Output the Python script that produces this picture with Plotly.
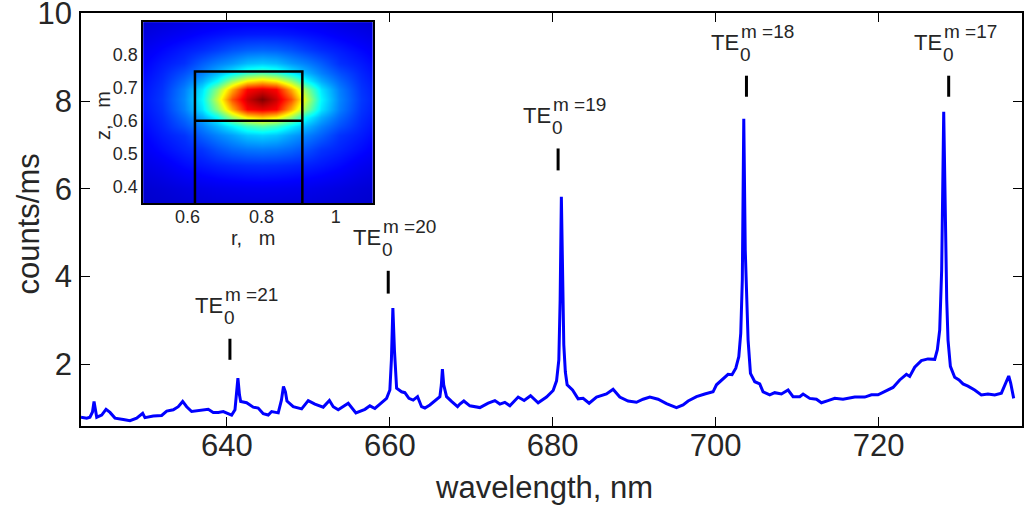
import plotly.graph_objects as go

# spectrum
wavelength = [622.10,622.80,623.20,623.51,623.70,624.03,624.64,625.17,625.66,626.27,
              627.29,628.11,628.93,629.67,629.95,630.97,632.00,632.62,633.43,634.04,
              634.58,635.07,635.68,636.70,637.72,638.33,638.95,639.56,640.59,641.00,
              641.20,641.36,641.55,641.70,642.43,643.24,643.85,644.47,645.08,645.50,
              646.31,646.70,646.95,647.19,647.38,647.74,648.15,649.18,649.99,650.81,
              651.83,652.59,653.06,653.67,654.90,655.84,656.95,657.56,658.17,658.79,
              659.61,660.01,660.20,660.38,660.57,660.84,661.45,661.85,662.35,662.87,
              663.41,663.90,664.31,664.92,665.54,666.15,666.33,666.46,666.62,666.97,
              667.58,668.32,668.60,669.09,669.83,671.06,672.08,672.90,673.51,674.12,
              674.74,675.76,676.49,677.28,678.21,679.24,680.05,680.47,680.75,680.91,
              681.06,681.22,681.36,681.55,681.77,682.43,683.12,683.73,684.47,685.38,
              686.60,687.41,688.23,689.25,690.28,691.09,691.92,692.93,693.96,695.19,
              696.00,696.62,697.65,698.66,699.68,700.10,700.91,701.52,702.01,702.47,
              702.84,703.08,703.27,703.45,703.63,703.82,703.98,704.27,704.80,705.41,
              705.82,706.64,707.25,708.07,708.89,709.50,710.32,710.73,711.55,712.37,
              712.98,713.79,714.62,715.63,717.07,718.30,719.12,719.93,720.96,721.77,
              722.59,723.41,723.82,724.43,725.25,726.06,726.89,727.21,727.50,727.74,
              727.99,728.21,728.36,728.52,728.81,729.34,729.87,730.36,730.97,731.79,
              732.61,733.42,734.25,735.07,735.56,735.97,736.21,736.58]
counts = [0.79,0.77,0.79,0.91,1.15,0.79,0.84,0.97,0.90,0.77,
          0.74,0.71,0.77,0.88,0.78,0.82,0.83,0.93,0.96,1.03,
          1.15,1.03,0.92,0.94,0.97,0.90,0.90,0.92,0.84,0.96,
          1.30,1.68,1.30,1.15,1.12,1.02,1.00,0.87,0.84,0.92,
          0.89,1.18,1.49,1.37,1.16,1.09,1.03,0.98,1.17,1.09,
          1.02,1.17,1.03,0.96,1.11,0.89,0.97,1.05,0.99,1.09,
          1.22,1.41,2.10,3.28,2.33,1.45,1.37,1.35,1.22,1.18,
          1.26,1.03,1.00,1.07,1.17,1.26,1.53,1.89,1.53,1.26,
          1.15,1.03,1.09,1.16,1.05,1.01,1.11,1.17,1.09,1.13,
          1.05,1.25,1.17,1.28,1.12,1.25,1.40,1.62,2.10,3.47,
          5.82,3.70,2.44,1.82,1.53,1.41,1.21,1.22,1.11,1.25,
          1.32,1.43,1.25,1.16,1.13,1.20,1.25,1.20,1.10,1.01,
          1.07,1.16,1.26,1.32,1.37,1.53,1.66,1.77,1.76,1.91,
          2.17,2.71,3.92,7.60,4.61,3.24,2.55,1.79,1.60,1.55,
          1.37,1.30,1.35,1.32,1.41,1.26,1.26,1.32,1.22,1.20,
          1.12,1.17,1.22,1.20,1.25,1.25,1.30,1.30,1.40,1.47,
          1.64,1.77,1.72,1.93,2.08,2.12,2.11,2.33,2.78,4.15,
          7.76,5.07,3.47,2.55,1.95,1.70,1.64,1.55,1.50,1.41,
          1.30,1.32,1.30,1.34,1.57,1.73,1.57,1.22]

# mode labels: order m, wavelength of the marker, marker bottom / top
mode_m = [21, 20, 19, 18, 17]
mode_x = [640.38, 659.81, 680.66, 703.78, 728.60]
mode_ybot = [2.10, 3.61, 6.42, 8.10, 8.10]
mode_ytop = [2.58, 4.13, 6.92, 8.58, 8.58]

# inset: mode intensity (normalised). field is symmetric in r about 0.8,
# so each row lists only the half from r=0.80 outwards
field_r = [0.45, 0.53, 0.59, 0.64, 0.68, 0.72, 0.76, 0.80, 0.84, 0.88, 0.92, 0.96, 1.01, 1.07, 1.15]
field_z = [0.305, 0.395, 0.465, 0.515, 0.555, 0.585, 0.61, 0.635,
           0.665, 0.695, 0.72, 0.745, 0.775, 0.815, 0.865, 0.925]
field_half = [
    [0.070, 0.070, 0.069, 0.069, 0.068, 0.066, 0.064, 0.060],
    [0.110, 0.109, 0.107, 0.104, 0.099, 0.092, 0.082, 0.070],
    [0.170, 0.168, 0.163, 0.156, 0.146, 0.132, 0.110, 0.088],
    [0.245, 0.240, 0.226, 0.204, 0.176, 0.158, 0.134, 0.100],
    [0.330, 0.318, 0.283, 0.253, 0.220, 0.175, 0.150, 0.108],
    [0.460, 0.430, 0.365, 0.305, 0.252, 0.204, 0.160, 0.114],
    [0.680, 0.640, 0.530, 0.380, 0.295, 0.228, 0.168, 0.120],
    [0.900, 0.874, 0.706, 0.510, 0.350, 0.250, 0.175, 0.124],
    [1.000, 0.924, 0.796, 0.570, 0.370, 0.258, 0.180, 0.126],
    [0.900, 0.874, 0.706, 0.510, 0.350, 0.250, 0.175, 0.124],
    [0.680, 0.640, 0.530, 0.380, 0.295, 0.228, 0.168, 0.120],
    [0.460, 0.430, 0.365, 0.305, 0.252, 0.204, 0.160, 0.114],
    [0.320, 0.308, 0.274, 0.248, 0.216, 0.172, 0.148, 0.108],
    [0.225, 0.220, 0.206, 0.186, 0.168, 0.152, 0.130, 0.098],
    [0.150, 0.149, 0.145, 0.138, 0.130, 0.117, 0.104, 0.082],
    [0.098, 0.098, 0.096, 0.093, 0.089, 0.083, 0.075, 0.067],
]
field = [row[:0:-1] + row for row in field_half]

# resonator outline drawn over the field
box_r = [0.62, 0.62, 0.91, 0.91]
box_z = [0.30, 0.75, 0.75, 0.30]
cut_r = [0.62, 0.91]
cut_z = [0.60, 0.60]

jet = [[0, "rgb(0,0,143)"], [0.125, "rgb(0,0,255)"], [0.375, "rgb(0,255,255)"],
       [0.625, "rgb(255,255,0)"], [0.875, "rgb(255,0,0)"], [1, "rgb(128,0,0)"]]

FONT = "Arial, Liberation Sans, sans-serif"
TXT = "#262626"

fig = go.Figure()
fig.add_trace(go.Scatter(x=wavelength, y=counts, mode="lines",
                         line=dict(color="rgb(0,0,255)", width=3), showlegend=False))

fig.add_trace(go.Heatmap(x=field_r, y=field_z, z=field, colorscale=jet, zmin=0, zmax=1,
                         zsmooth="best", showscale=False, xaxis="x2", yaxis="y2"))
fig.add_trace(go.Scatter(x=box_r, y=box_z, mode="lines", line=dict(color="black", width=2.5),
                         xaxis="x2", yaxis="y2", showlegend=False))
fig.add_trace(go.Scatter(x=cut_r, y=cut_z, mode="lines", line=dict(color="black", width=2.5),
                         xaxis="x2", yaxis="y2", showlegend=False))

# TE labels with a short marker under each
for m, x, yb, yt in zip(mode_m, mode_x, mode_ybot, mode_ytop):
    fig.add_shape(type="line", xref="x", yref="y", x0=x, x1=x, y0=yb, y1=yt,
                  line=dict(color="black", width=3))
    fig.add_annotation(x=x, y=yt, text="TE", showarrow=False, xanchor="right", yanchor="middle",
                       xshift=-5, yshift=33, font=dict(family=FONT, size=22, color=TXT))
    fig.add_annotation(x=x, y=yt, text="0", showarrow=False, xanchor="left", yanchor="middle",
                       xshift=-8, yshift=21, font=dict(family=FONT, size=19, color=TXT))
    fig.add_annotation(x=x, y=yt, text="m =%d" % m, showarrow=False, xanchor="left",
                       yanchor="middle", xshift=-7, yshift=44,
                       font=dict(family=FONT, size=19, color=TXT))

# axis titles (main and inset)
title_style = dict(xref="paper", yref="paper", showarrow=False, xanchor="center", yanchor="middle")
fig.add_annotation(x=0.5, y=0, text="wavelength, nm", xshift=-8, yshift=-61,
                   font=dict(family=FONT, size=31, color=TXT), **title_style)
fig.add_annotation(x=0, y=0.5, text="counts/ms", textangle=-90, xshift=-53, yshift=-5,
                   font=dict(family=FONT, size=31, color=TXT), **title_style)
fig.add_annotation(x=0.1828, y=0.4545, text="r,   m",
                   font=dict(family=FONT, size=20, color=TXT), **title_style)
fig.add_annotation(x=0.0234, y=0.7506, text="z,   m", textangle=-90,
                   font=dict(family=FONT, size=20, color=TXT), **title_style)

axis_style = dict(showline=True, linecolor="black", linewidth=1.5, mirror="ticks",
                  ticks="inside", tickcolor="black", showgrid=False, zeroline=False,
                  automargin=False, ticklabeloverflow="allow")

fig.update_layout(
    width=1026, height=507,
    margin=dict(l=81, r=4, t=13, b=81),
    plot_bgcolor="white", paper_bgcolor="white",
    font=dict(family=FONT, color=TXT),
    xaxis=dict(range=[622.1, 737.6], tickvals=[640, 660, 680, 700, 720], ticklen=9,
               tickfont=dict(size=31), ticklabelstandoff=-9, **axis_style),
    yaxis=dict(range=[0.59, 10.01], tickvals=[2, 4, 6, 8, 10], ticklen=9,
               tickfont=dict(size=31), ticklabelstandoff=1, **axis_style),
    xaxis2=dict(domain=[0.066, 0.310], anchor="y2", range=[0.48, 1.10], tickvals=[0.6, 0.8, 1],
                ticktext=["0.6", "0.8", "1"], ticklen=0, tickfont=dict(size=18),
                ticklabelstandoff=-3, **axis_style),
    yaxis2=dict(domain=[0.540, 0.978], anchor="x2", range=[0.35, 0.90],
                tickvals=[0.4, 0.5, 0.6, 0.7, 0.8], ticklen=0, tickfont=dict(size=18),
                **axis_style),
)

# page body has an 8px default margin; drop it so the figure sits at 0,0
fig.write_html("out.html", config={"displayModeBar": False},
               post_script="document.body.style.margin='0';")
